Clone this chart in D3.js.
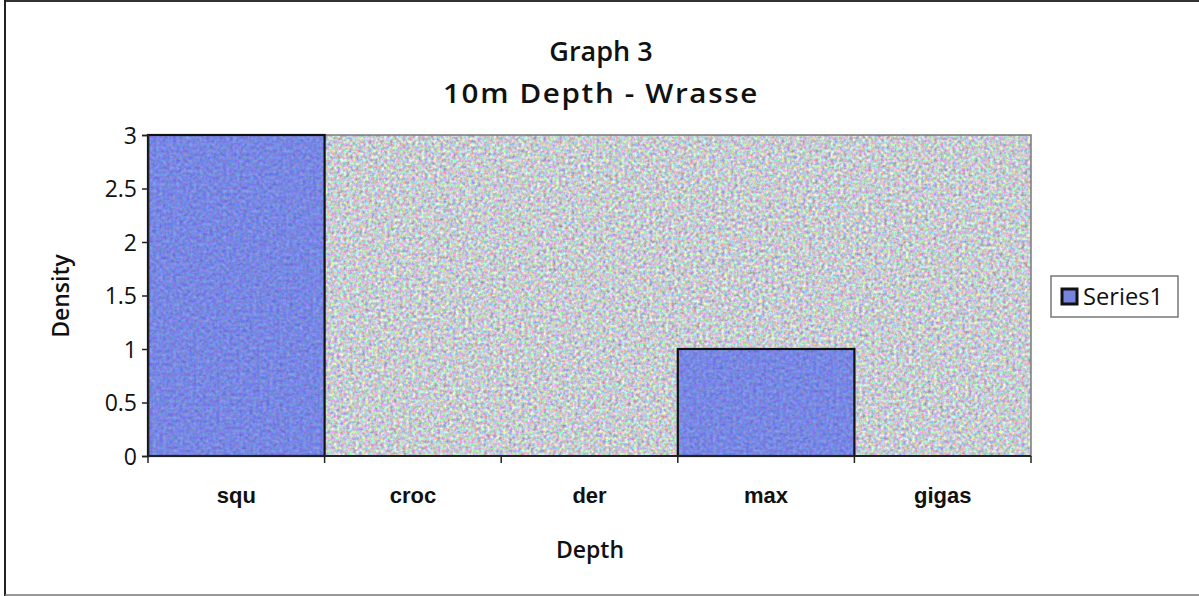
<!DOCTYPE html>
<html>
<head>
<meta charset="utf-8">
<script src="https://cdn.jsdelivr.net/npm/d3@7"></script>
<style>
  html, body { margin: 0; padding: 0; background: #fff; }
  svg { display: block; }
  text { font-family: "Open Sans", "Liberation Sans", sans-serif; fill: #111; }
</style>
</head>
<body>
<svg id="chart" width="1199" height="596"></svg>
<script>
// Wrasse density by species at 10 m depth
const categories = ["squ", "croc", "der", "max", "gigas"];
const density = [3, 0, 0, 1, 0];
const yTicks = [0, 0.5, 1, 1.5, 2, 2.5, 3];
const seriesName = "Series1";
const titleLines = ["Graph 3", "10m Depth - Wrasse"];
const xTitle = "Depth";
const yTitle = "Density";

const W = 1199, H = 596;
const plot = { left: 148, right: 1031, top: 135, bottom: 456 };

const svg = d3.select("#chart");
const defs = svg.append("defs");

// speckled texture: per-channel noise centred on a base colour
function speckle(id, freq, seed, gain, means) {
  const f = defs.append("filter").attr("id", id)
    .attr("x", 0).attr("y", 0).attr("width", 1).attr("height", 1)
    .attr("color-interpolation-filters", "sRGB");
  f.append("feTurbulence").attr("type", "fractalNoise")
    .attr("baseFrequency", freq).attr("numOctaves", 2).attr("seed", seed).attr("result", "noise");
  const off = means.map(m => (m - gain * 0.5).toFixed(3));
  f.append("feColorMatrix").attr("in", "noise").attr("type", "matrix")
    .attr("values", `${gain} 0 0 0 ${off[0]}  0 ${gain} 0 0 ${off[1]}  0 0 ${gain} 0 ${off[2]}  0 0 0 0 1`)
    .attr("result", "tint");
  f.append("feComposite").attr("in", "tint").attr("in2", "SourceGraphic").attr("operator", "in");
}
speckle("granite", 0.32, 7, 0.8, [0.78, 0.8, 0.82]);
speckle("barTex", 0.3, 3, 0.35, [0.47, 0.53, 0.89]);

// outer frame of the chart
svg.append("line").attr("x1", 5).attr("x2", W).attr("y1", 1).attr("y2", 1)
  .attr("stroke", "#333").attr("stroke-width", 2);
svg.append("line").attr("x1", 5).attr("x2", 5).attr("y1", 0).attr("y2", H)
  .attr("stroke", "#222").attr("stroke-width", 2);
svg.append("line").attr("x1", 5).attr("x2", W).attr("y1", 595).attr("y2", 595)
  .attr("stroke", "#777").attr("stroke-width", 1.5);

const x = d3.scaleBand().domain(categories).range([plot.left, plot.right]).padding(0);
const y = d3.scaleLinear().domain([0, 3]).range([plot.bottom, plot.top]);

// plot area background
svg.append("rect")
  .attr("x", plot.left).attr("y", plot.top)
  .attr("width", plot.right - plot.left).attr("height", plot.bottom - plot.top)
  .attr("fill", "#c5cad0").attr("filter", "url(#granite)");
svg.append("rect")
  .attr("x", plot.left).attr("y", plot.top)
  .attr("width", plot.right - plot.left).attr("height", plot.bottom - plot.top)
  .attr("fill", "none").attr("stroke", "#7a7a7a").attr("stroke-width", 1.5);

// bars
const barData = categories.map((c, i) => ({ c, v: density[i] })).filter(d => d.v > 0);
svg.append("g").selectAll("rect")
  .data(barData)
  .join("rect")
  .attr("x", d => x(d.c)).attr("y", d => y(d.v))
  .attr("width", x.bandwidth()).attr("height", d => y(0) - y(d.v))
  .attr("fill", "#7784dc").attr("filter", "url(#barTex)");
svg.append("g").selectAll("rect")
  .data(barData)
  .join("rect")
  .attr("x", d => x(d.c)).attr("y", d => y(d.v))
  .attr("width", x.bandwidth()).attr("height", d => y(0) - y(d.v))
  .attr("fill", "none").attr("stroke", "#111").attr("stroke-width", 2.2);

// y axis
const yAxis = svg.append("g").attr("transform", `translate(${plot.left},0)`)
  .call(d3.axisLeft(y).tickValues(yTicks).tickSize(6).tickPadding(5).tickFormat(d3.format("")));
yAxis.select(".domain").attr("stroke", "#222").attr("stroke-width", 1.5);
yAxis.selectAll(".tick line").attr("stroke", "#222").attr("stroke-width", 1.5);
yAxis.selectAll(".tick text").attr("font-size", 23).attr("fill", "#111")
  .attr("font-weight", 500).attr("dy", "0.36em")
  .style("font-family", "'Open Sans', sans-serif");

// x axis: ticks sit on category boundaries
const xAxisG = svg.append("g").attr("transform", `translate(0,${plot.bottom})`);
xAxisG.append("line").attr("x1", plot.left).attr("x2", plot.right)
  .attr("stroke", "#222").attr("stroke-width", 2);
const bounds = categories.map(c => x(c)).concat([plot.right]);
xAxisG.selectAll("line.tk").data(bounds).join("line").attr("class", "tk")
  .attr("x1", d => d).attr("x2", d => d).attr("y1", 0).attr("y2", 7)
  .attr("stroke", "#222").attr("stroke-width", 1.5);
xAxisG.selectAll("text").data(categories).join("text")
  .attr("x", d => x(d) + x.bandwidth() / 2).attr("y", 47)
  .attr("text-anchor", "middle").attr("font-size", 22).attr("font-weight", 700)
  .style("font-family", "'Liberation Sans', Arial, sans-serif")
  .attr("fill", "#1a1a1a")
  .text(d => d);

// titles
svg.append("g").selectAll("text").data(titleLines).join("text")
  .attr("x", 601).attr("y", (d, i) => 61 + i * 42)
  .attr("text-anchor", "middle").attr("font-size", 27)
  .attr("font-weight", 600)
  .style("letter-spacing", (d, i) => i === 1 ? "1.5px" : null)
  .attr("textLength", (d, i) => i === 1 ? 316 : null)
  .attr("lengthAdjust", "spacingAndGlyphs")
  .text(d => d);
svg.append("text").attr("x", 590).attr("y", 558).attr("text-anchor", "middle")
  .attr("font-size", 23).attr("font-weight", 600).text(xTitle);
svg.append("text").attr("transform", "translate(69,296) rotate(-90)")
  .attr("text-anchor", "middle").attr("font-size", 23).attr("font-weight", 600).text(yTitle);

// legend
const lg = svg.append("g").attr("transform", "translate(1051,276)");
lg.append("rect").attr("width", 127).attr("height", 41)
  .attr("fill", "#fff").attr("stroke", "#777").attr("stroke-width", 1.5);
lg.append("rect").attr("x", 11).attr("y", 13).attr("width", 15).attr("height", 15)
  .attr("fill", "#7784dc").attr("stroke", "#111").attr("stroke-width", 3);
lg.append("text").attr("x", 32).attr("y", 29).attr("font-size", 23).attr("font-weight", 500)
  .attr("textLength", 80).attr("lengthAdjust", "spacingAndGlyphs")
  .text(seriesName);
</script>
</body>
</html>
